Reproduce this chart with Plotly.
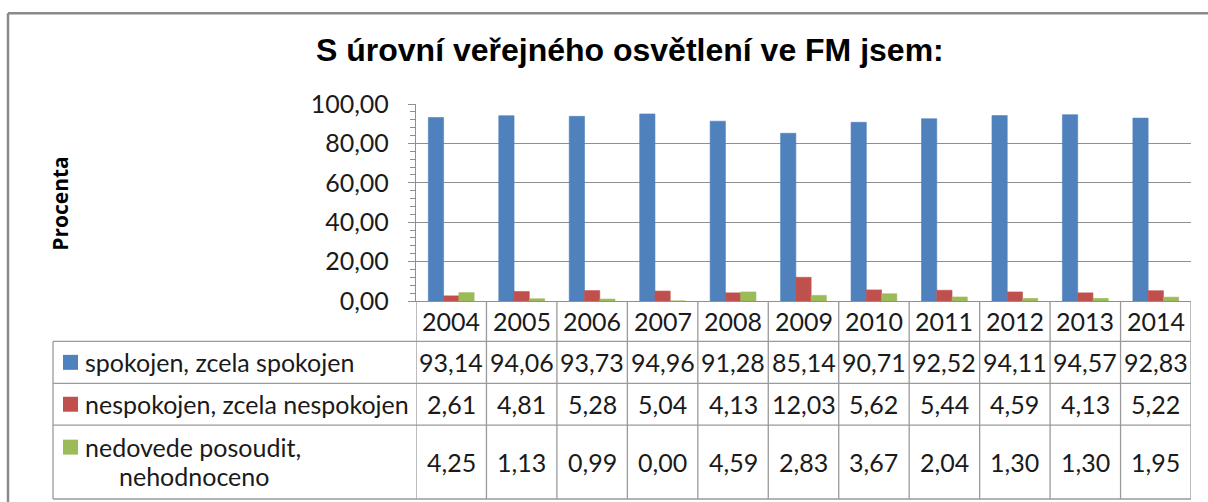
import plotly.graph_objects as go

years = [2004, 2005, 2006, 2007, 2008, 2009, 2010, 2011, 2012, 2013, 2014]
spokojen = [93.14, 94.06, 93.73, 94.96, 91.28, 85.14, 90.71, 92.52, 94.11, 94.57, 92.83]
nespokojen = [2.61, 4.81, 5.28, 5.04, 4.13, 12.03, 5.62, 5.44, 4.59, 4.13, 5.22]
nedovede = [4.25, 1.13, 0.99, 0.00, 4.59, 2.83, 3.67, 2.04, 1.30, 1.30, 1.95]
series_names = ["spokojen, zcela spokojen", "nespokojen, zcela nespokojen", "nedovede posoudit,"]
series_name3_line2 = "nehodnoceno"
colors = ["#4F81BD", "#C0504D", "#9BBB59"]
title_text = "S úrovní veřejného osvětlení ve FM jsem:"
ytitle = "Procenta"

W, H = 1208, 502
L, R, T, B = 416, 1191, 104, 301.5
pw, ph = R - L, B - T


def px(x):
    return (x - L) / pw


def py(y):
    return (B - y) / ph


def fmt(v):
    return f"{v:.2f}".replace(".", ",")


FONT = "Lato"
FS = 25
TXT = "#1a1a1a"
GRID = "#8f8f8f"
TBL = "#9a9a9a"

fig = go.Figure()
all_series = [spokojen, nespokojen, nedovede]
for name, vals, c in zip(series_names, all_series, colors):
    fig.add_trace(go.Bar(x=years, y=vals, name=name, marker=dict(color=c, line=dict(width=0.6, color=c)),
                         showlegend=False))

shapes = []
annotations = []

# outer border (top and left)
shapes.append(dict(type="line", xref="paper", yref="paper", x0=px(8), x1=px(1215), y0=py(13), y1=py(13),
                   line=dict(color="#8a8a8a", width=2.5)))
shapes.append(dict(type="line", xref="paper", yref="paper", x0=px(8), x1=px(8), y0=py(13), y1=py(510),
                   line=dict(color="#8a8a8a", width=2.5)))

# table vertical lines between categories
bounds = [years[0] - 0.5] + [y + 0.5 for y in years]
for b in bounds:
    shapes.append(dict(type="line", xref="x", yref="paper", x0=b, x1=b, y0=py(302), y1=py(500),
                       line=dict(color=TBL, width=1.3)))
# left border of legend column
shapes.append(dict(type="line", xref="paper", yref="paper", x0=px(53), x1=px(53), y0=py(342), y1=py(500),
                   line=dict(color=TBL, width=1.3)))
# horizontal lines
for yy in [342, 384, 426, 500]:
    shapes.append(dict(type="line", xref="paper", yref="paper", x0=px(53), x1=1, y0=py(yy), y1=py(yy),
                       line=dict(color=TBL, width=1.3)))

# year labels
for yv in years:
    annotations.append(dict(x=yv, y=py(322), xref="x", yref="paper", text=str(yv), showarrow=False,
                            font=dict(family=FONT, size=FS, color=TXT), xanchor="center", yanchor="middle"))

row_centers = [363, 405, 463]
for vals, yc in zip(all_series, row_centers):
    for yv, v in zip(years, vals):
        annotations.append(dict(x=yv, y=py(yc), xref="x", yref="paper", text=fmt(v), showarrow=False,
                                font=dict(family=FONT, size=FS, color=TXT), xanchor="center", yanchor="middle"))

# legend keys and names
legend_text_y = [363, 405, 448]
for name, c, yc in zip(series_names, colors, legend_text_y):
    shapes.append(dict(type="rect", xref="paper", yref="paper", x0=px(63), x1=px(78), y0=py(yc - 7.5),
                       y1=py(yc + 7.5), fillcolor=c, line=dict(width=0)))
    annotations.append(dict(x=px(83), y=py(yc), xref="paper", yref="paper", text=name, showarrow=False,
                            font=dict(family=FONT, size=FS, color=TXT), xanchor="left", yanchor="middle"))
annotations.append(dict(x=px(117), y=py(477), xref="paper", yref="paper", text=series_name3_line2,
                        showarrow=False, font=dict(family=FONT, size=FS, color=TXT), xanchor="left",
                        yanchor="middle"))

# title
annotations.append(dict(x=px(630), y=py(50), xref="paper", yref="paper", text="<b>" + title_text + "</b>",
                        showarrow=False,
                        font=dict(family="Liberation Sans", size=32, color="#000000"), xanchor="center",
                        yanchor="middle"))
# y axis title
annotations.append(dict(x=px(60), y=py(204), xref="paper", yref="paper", text="<b>" + ytitle + "</b>",
                        showarrow=False, textangle=-90, font=dict(family="Open Sans", size=21, color="#000000"),
                        xanchor="center", yanchor="middle"))

fig.update_layout(
    width=W, height=H,
    margin=dict(l=L, r=W - R, t=T, b=H - B, pad=0),
    paper_bgcolor="white", plot_bgcolor="white",
    separators=", ",
    barmode="group", bargap=0.35, bargroupgap=0,
    shapes=shapes, annotations=annotations,
    xaxis=dict(range=[years[0] - 0.5, years[-1] + 0.5], showticklabels=False, showgrid=False,
               zeroline=False, showline=True, linecolor=GRID, linewidth=1.3, ticks=""),
    yaxis=dict(range=[0, 100], dtick=20, tick0=0, tickformat=".2f", showgrid=True, gridcolor=GRID,
               gridwidth=1.3, zeroline=False, showline=True, linecolor=GRID, linewidth=1.3,
               ticks="outside", ticklen=7, tickcolor=GRID, tickwidth=1,
               minor=dict(dtick=4, ticks="outside", ticklen=5, tickcolor=GRID, showgrid=False),
               tickfont=dict(family=FONT, size=FS, color=TXT), ticklabelstandoff=14),
)

fig.write_html("out.html", config={"displayModeBar": False})

# remove default page margin so the figure sits at the window's top-left corner
with open("out.html", "r", encoding="utf-8") as f:
    html = f.read()
html = html.replace("<body>", '<body style="margin:0;padding:0;">', 1)
with open("out.html", "w", encoding="utf-8") as f:
    f.write(html)
